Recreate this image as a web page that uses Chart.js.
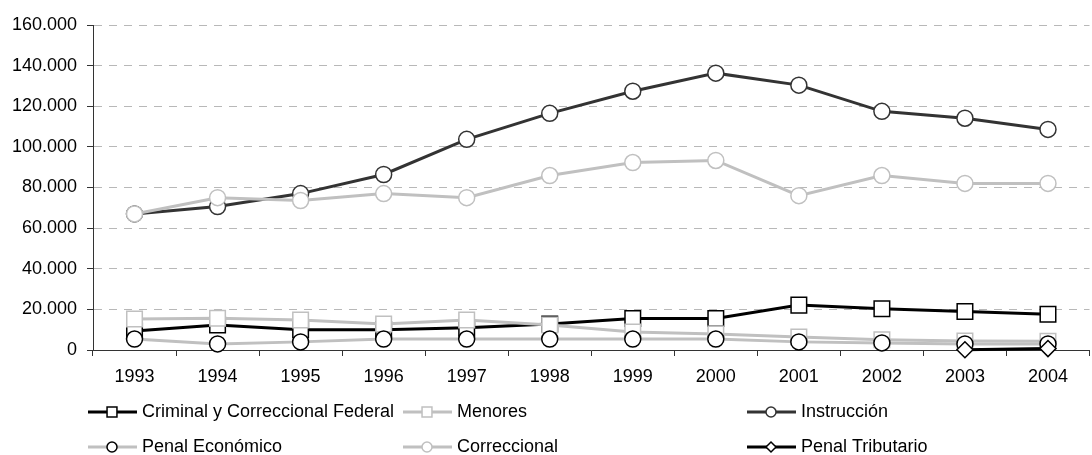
<!DOCTYPE html>
<html>
<head>
<meta charset="utf-8">
<script src="https://cdn.jsdelivr.net/npm/chart.js@4"></script>
<style>
  html, body { margin: 0; padding: 0; background: #fff; overflow: hidden; }
  #wrap { width: 1102px; height: 455px; }
</style>
</head>
<body>
<div id="wrap"><canvas id="chart"></canvas></div>
<script>
const years = ['1993', '1994', '1995', '1996', '1997', '1998', '1999', '2000', '2001', '2002', '2003', '2004'];

const criminalFederal = [9400, 12300, 10000, 10000, 10900, 12800, 15500, 15500, 22100, 20300, 19000, 17600];
const menores = [15300, 15600, 14800, 12800, 14800, 12300, 8900, 7900, 6400, 5000, 4400, 4300];
const instruccion = [67000, 70600, 77000, 86400, 103700, 116500, 127400, 136300, 130400, 117500, 114100, 108600];
const penalEconomico = [5400, 3000, 4000, 5400, 5400, 5400, 5400, 5400, 4000, 3500, 3000, 3000];
const correccional = [67000, 75000, 73600, 77000, 75000, 85900, 92300, 93300, 76000, 85900, 82000, 82000];
const penalTributario = [null, null, null, null, null, null, null, null, null, null, 100, 700];

const yTicks = [0, 20000, 40000, 60000, 80000, 100000, 120000, 140000, 160000];

const FONT = '"Liberation Sans", Arial, sans-serif';
const BLACK = '#000000';
const DARK = '#333333';
const LIGHT = '#c0c0c0';

// legend sits in fixed columns like the original spreadsheet legend
const legendCols = [88, 403, 747];
const legendRows = [412, 447];

function fmt(v) {
  return String(v).replace(/\B(?=(\d{3})+(?!\d))/g, '.');
}

function series(label, data, color, style, markerBorder, radius, legendRadius, order) {
  return {
    label, data, order,
    borderColor: color,
    borderWidth: 3,
    tension: 0,
    clip: false,
    pointStyle: style,
    pointRadius: radius,
    pointHoverRadius: radius,
    pointBackgroundColor: '#ffffff',
    pointBorderColor: markerBorder,
    pointBorderWidth: 1.5,
    legendRadius
  };
}

const gridLegend = {
  id: 'gridLegend',
  afterDraw(chart) {
    const ctx = chart.ctx;
    chart.data.datasets.forEach((ds, i) => {
      const x = legendCols[i % 3];
      const y = legendRows[Math.floor(i / 3)];
      ctx.save();
      ctx.strokeStyle = ds.borderColor;
      ctx.lineWidth = ds.borderWidth;
      ctx.beginPath();
      ctx.moveTo(x, y);
      ctx.lineTo(x + 49, y);
      ctx.stroke();
      ctx.fillStyle = '#ffffff';
      ctx.strokeStyle = ds.pointBorderColor;
      ctx.lineWidth = 1.5;
      Chart.helpers.drawPoint(ctx, { pointStyle: ds.pointStyle, radius: ds.legendRadius, borderWidth: 1.5, rotation: 0 }, x + 24, y);
      ctx.fillStyle = '#000000';
      ctx.font = '18px ' + FONT;
      ctx.textBaseline = 'middle';
      ctx.textAlign = 'left';
      ctx.fillText(ds.label, x + 54, y);
      ctx.restore();
    });
  }
};

new Chart(document.getElementById('chart'), {
  type: 'line',
  data: {
    labels: years,
    datasets: [
      series('Criminal y Correccional Federal', criminalFederal, BLACK, 'rect', BLACK, 11, 7, 6),
      series('Menores', menores, LIGHT, 'rect', LIGHT, 11, 7, 5),
      series('Instrucción', instruccion, DARK, 'circle', DARK, 8, 5, 4),
      series('Penal Económico', penalEconomico, LIGHT, 'circle', BLACK, 8, 5, 3),
      series('Correccional', correccional, LIGHT, 'circle', LIGHT, 8, 5, 2),
      series('Penal Tributario', penalTributario, BLACK, 'rectRot', BLACK, 8, 5, 1)
    ]
  },
  options: {
    responsive: true,
    maintainAspectRatio: false,
    animation: false,
    layout: { padding: { top: 25, right: 0, bottom: 65, left: 0 } },
    plugins: {
      legend: { display: false },
      tooltip: { enabled: false }
    },
    scales: {
      x: {
        offset: true,
        grid: {
          offset: true,
          drawOnChartArea: false,
          drawTicks: true,
          tickLength: 6,
          tickColor: DARK
        },
        border: { display: true, color: DARK, width: 1 },
        ticks: { color: '#000', font: { family: FONT, size: 18 }, padding: 10, maxRotation: 0, autoSkip: false },
        afterFit(scale) { scale.height = 40; }
      },
      y: {
        min: 0,
        max: 160000,
        afterBuildTicks(scale) { scale.ticks = yTicks.map(v => ({ value: v })); },
        grid: {
          color: '#b8b8b8',
          lineWidth: 1,
          tickLength: 6,
          tickColor: DARK
        },
        border: { display: true, color: DARK, width: 1, dash: [8, 7] },
        ticks: {
          color: '#000',
          font: { family: FONT, size: 18 },
          padding: 10,
          callback: v => fmt(v)
        },
        afterFit(scale) { scale.width = 93; }
      }
    }
  },
  plugins: [gridLegend]
});
</script>
</body>
</html>
